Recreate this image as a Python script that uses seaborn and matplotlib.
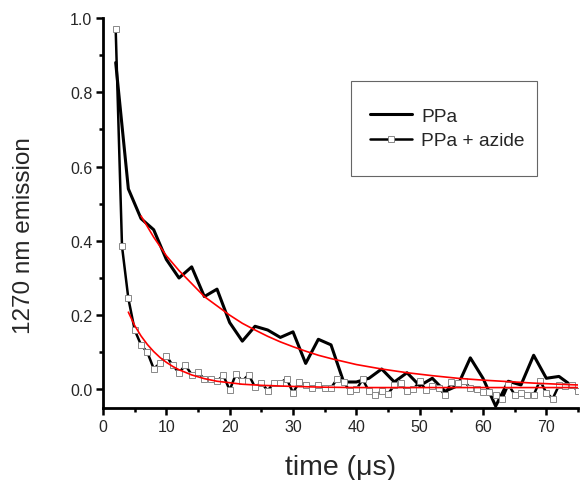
import matplotlib
matplotlib.use("Agg")
import matplotlib.pyplot as plt
from matplotlib.ticker import MultipleLocator, FormatStrFormatter
from matplotlib.patches import Rectangle
import seaborn as sns

# PPa decay (every 2 us)
ppa_t = [2, 4, 6, 8, 10, 12, 14, 16, 18, 20, 22, 24, 26, 28, 30, 32, 34, 36, 38,
         40, 42, 44, 46, 48, 50, 52, 54, 56, 58, 60, 62, 64, 66, 68, 70, 72, 74]
ppa_y = [0.88, 0.54, 0.46, 0.43, 0.35, 0.30, 0.33, 0.25, 0.27, 0.18, 0.13, 0.17, 0.16,
         0.14, 0.155, 0.07, 0.135, 0.12, 0.02, 0.02, 0.03, 0.055, 0.02, 0.045, 0.01,
         0.03, -0.005, 0.01, 0.085, 0.03, -0.045, 0.022, 0.012, 0.092, 0.03, 0.035, 0.01]

# PPa + azide decay (every 1 us)
azi_t = list(range(2, 76))
azi_y = [0.97, 0.385, 0.245, 0.16, 0.12, 0.10, 0.056, 0.07, 0.09, 0.065, 0.045, 0.065,
         0.04, 0.047, 0.027, 0.027, 0.022, 0.038, -0.002, 0.042, 0.022, 0.04, 0.006,
         0.018, -0.003, 0.018, 0.018, 0.029, -0.009, 0.02, 0.013, 0.004, 0.013, 0.004,
         0.004, 0.029, 0.02, -0.005, 0.0, 0.027, -0.005, -0.016, -0.005, -0.012, 0.011,
         0.018, -0.005, 0.0, 0.022, -0.002, 0.009, 0.004, -0.014, 0.02, 0.018, 0.022,
         0.004, 0.002, -0.007, -0.007, -0.016, -0.027, 0.013, -0.014, -0.009, -0.015,
         -0.015, 0.024, -0.009, -0.025, 0.011, 0.009, 0.013, -0.005]

# exponential fit curves
fit1_t = [6, 8, 10, 12, 14, 16, 18, 20, 22, 24, 26, 28, 30, 32, 34, 36, 38, 40, 44,
          48, 52, 56, 60, 64, 68, 72, 75]
fit1_y = [0.467, 0.41, 0.36, 0.32, 0.285, 0.25, 0.225, 0.2, 0.178, 0.16, 0.143, 0.128,
          0.115, 0.103, 0.092, 0.083, 0.075, 0.067, 0.055, 0.045, 0.037, 0.03, 0.025,
          0.021, 0.017, 0.014, 0.012]
fit2_t = [4, 5, 6, 7, 8, 9, 10, 11, 12, 14, 16, 18, 20, 22, 25, 30, 35, 40, 50, 60, 75]
fit2_y = [0.208, 0.172, 0.144, 0.121, 0.102, 0.086, 0.073, 0.062, 0.053, 0.039, 0.029,
          0.022, 0.018, 0.014, 0.011, 0.008, 0.006, 0.005, 0.005, 0.005, 0.005]

sns.set_style("ticks")
plt.rcParams['font.family'] = ['Liberation Sans', 'DejaVu Sans']

fig = plt.figure(figsize=(5.83, 4.81), dpi=100)
ax = fig.add_axes([0.1767, 0.1497, 0.8147, 0.8108])

sns.lineplot(x=fit1_t, y=fit1_y, ax=ax, color='red', lw=1.2, zorder=3)
sns.lineplot(x=fit2_t, y=fit2_y, ax=ax, color='red', lw=1.2, zorder=3)
sns.lineplot(x=ppa_t, y=ppa_y, ax=ax, color='black', lw=2.2, label='PPa', zorder=2)
sns.lineplot(x=azi_t, y=azi_y, ax=ax, color='black', lw=1.8, marker='s', markersize=4,
             markerfacecolor='white', markeredgecolor='#888888', markeredgewidth=0.7,
             label='PPa + azide', zorder=2)

ax.set_xlim(0, 75)
ax.set_ylim(-0.05, 1.0)
ax.xaxis.set_major_locator(MultipleLocator(10))
ax.xaxis.set_minor_locator(MultipleLocator(5))
ax.yaxis.set_major_locator(MultipleLocator(0.2))
ax.yaxis.set_minor_locator(MultipleLocator(0.1))
ax.yaxis.set_major_formatter(FormatStrFormatter('%.1f'))
ax.tick_params(which='major', direction='out', length=4.7, width=1.8, labelsize=11.5,
               color='black', pad=3)
ax.tick_params(which='minor', direction='out', length=3, width=1.8, color='black')
for s in ['left', 'bottom']:
    ax.spines[s].set_linewidth(2.0)
    ax.spines[s].set_color('black')
sns.despine(ax=ax)

ax.set_xlabel('time (μs)', fontsize=20.5)
ax.xaxis.set_label_coords(0.5, -0.118)
ax.set_ylabel('1270 nm emission', fontsize=17.5)
ax.yaxis.set_label_coords(-0.143, (409 - 236) / 390)

# legend box
fig.patches.append(Rectangle((350.7 / 583, 1 - 177 / 481), 186 / 583, 95 / 481,
                             transform=fig.transFigure, fill=False,
                             edgecolor='#666666', lw=0.8))
ax.legend(loc='center left', bbox_to_anchor=(370 / 583, 1 - 129.5 / 481),
          bbox_transform=fig.transFigure, fontsize=13.8, frameon=False,
          borderpad=0, handlelength=2.19, handletextpad=0.47, labelspacing=0.36,
          borderaxespad=0)

plt.savefig('out.png', dpi=100)
